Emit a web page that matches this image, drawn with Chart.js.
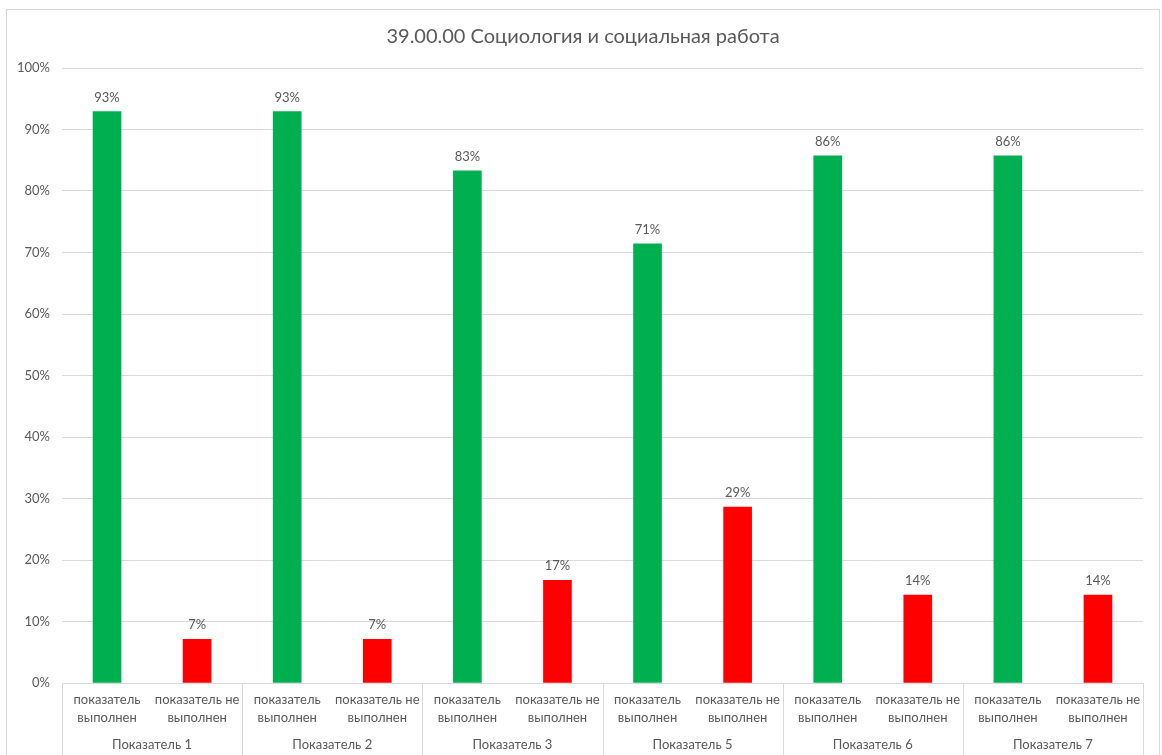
<!DOCTYPE html>
<html>
<head>
<meta charset="utf-8">
<script src="https://cdn.jsdelivr.net/npm/chart.js@4"></script>
<style>
  html, body { margin: 0; padding: 0; background: #fff; }
  #wrap { width: 1162px; height: 755px; position: relative; }
</style>
</head>
<body>
<div id="wrap"><canvas id="chart"></canvas></div>
<script>
// данные диаграммы
const title = '39.00.00 Социология и социальная работа';
const groups = ['Показатель 1', 'Показатель 2', 'Показатель 3', 'Показатель 5', 'Показатель 6', 'Показатель 7'];
const subLabels = [['показатель', 'выполнен'], ['показатель не', 'выполнен']];
const values = [92.9, 7.1, 92.9, 7.1, 83.3, 16.7, 71.4, 28.6, 85.7, 14.3, 85.7, 14.3];
const yTicks = [0, 10, 20, 30, 40, 50, 60, 70, 80, 90, 100];

const colorDone = '#00B050';
const colorNot = '#FF0000';
const textColor = '#595959';
const lineColor = '#d9d9d9';
const fontFamily = 'Lato, Carlito, "Noto Sans", sans-serif';

// подписи категорий: пара на каждую группу
const labels = [];
groups.forEach(function () {
  labels.push(subLabels[0]);
  labels.push(subLabels[1]);
});
const colors = values.map(function (v, i) { return i % 2 === 0 ? colorDone : colorNot; });

// рамка, заголовок, подписи значений и группы
const excelLook = {
  id: 'excelLook',
  beforeDraw(chart) {
    const c = chart.ctx;
    c.save();
    c.strokeStyle = lineColor;
    c.lineWidth = 1;
    c.strokeRect(6.5, 9.5, 1153, 800);
    c.restore();
  },
  afterDatasetsDraw(chart) {
    const c = chart.ctx;
    const meta = chart.getDatasetMeta(0);
    c.save();
    c.fillStyle = textColor;
    c.font = '13px ' + fontFamily;
    c.textAlign = 'center';
    c.textBaseline = 'alphabetic';
    meta.data.forEach(function (bar, i) {
      c.fillText(Math.round(values[i]) + '%', bar.x, bar.y - 10);
    });
    c.restore();
  },
  afterDraw(chart) {
    const c = chart.ctx;
    const x = chart.scales.x;
    const top = chart.chartArea.bottom;
    c.save();
    // заголовок
    c.fillStyle = textColor;
    c.font = '20px ' + fontFamily;
    c.textAlign = 'center';
    c.textBaseline = 'middle';
    c.fillText(title, 583, 37);
    // разделители групп
    c.strokeStyle = lineColor;
    c.lineWidth = 1;
    const half = (x.getPixelForValue(1) - x.getPixelForValue(0)) / 2;
    for (let g = 0; g <= groups.length; g++) {
      const px = Math.round(x.getPixelForValue(g * 2) - half) + 0.5;
      c.beginPath();
      c.moveTo(px, top);
      c.lineTo(px, 760);
      c.stroke();
    }
    // названия групп
    c.font = '13px ' + fontFamily;
    groups.forEach(function (name, g) {
      const cx = (x.getPixelForValue(g * 2) + x.getPixelForValue(g * 2 + 1)) / 2;
      c.fillText(name, cx, 745);
    });
    c.restore();
  }
};

const ctx = document.getElementById('chart').getContext('2d');
new Chart(ctx, {
  type: 'bar',
  data: {
    labels: labels,
    datasets: [{
      data: values,
      backgroundColor: colors,
      barThickness: 28,
    }]
  },
  options: {
    responsive: true,
    maintainAspectRatio: false,
    animation: false,
    layout: { padding: { top: 68, right: 19, bottom: 0, left: 0 } },
    plugins: {
      legend: { display: false },
      tooltip: { enabled: false },
      title: { display: false },
    },
    scales: {
      x: {
        grid: { display: false, drawTicks: false },
        border: { color: lineColor },
        ticks: {
          color: textColor,
          font: { family: fontFamily, size: 13, lineHeight: 1.4 },
          padding: 8,
          autoSkip: false,
          maxRotation: 0,
        },
        afterFit(scale) { scale.height = 72; },
      },
      y: {
        min: 0,
        max: 100,
        afterBuildTicks(scale) { scale.ticks = yTicks.map(function (v) { return { value: v }; }); },
        grid: { color: lineColor, drawTicks: false },
        border: { display: false },
        ticks: {
          color: textColor,
          font: { family: fontFamily, size: 13 },
          padding: 12,
          callback: function (v) { return v + '%'; },
        },
        afterFit(scale) { scale.width = 62; },
      }
    }
  },
  plugins: [excelLook]
});
</script>
</body>
</html>
